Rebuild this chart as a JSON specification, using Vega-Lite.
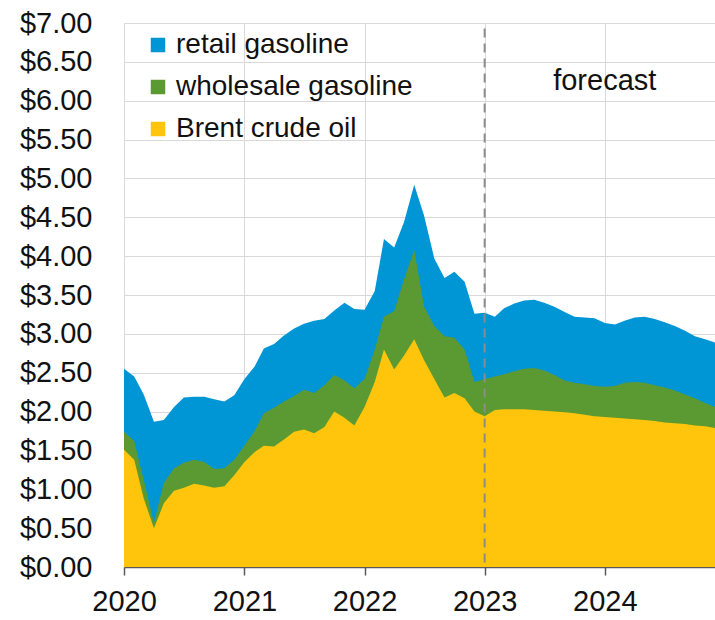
{
  "$schema": "https://vega.github.io/schema/vega-lite/v6.json",
  "autosize": {"type": "none"},
  "padding": {"left": 124, "top": 23, "right": 0, "bottom": 53},
  "width": 591,
  "height": 544,
  "config": {
    "font": "Liberation Sans",
    "view": {"stroke": null},
    "axis": {"labelFont": "Liberation Sans", "labelFontSize": 29, "labelColor": "#111111", "gridColor": "#D9D9D9", "gridWidth": 1}
  },
  "data": {"values": [
    {"date": "2020-01-01", "series": "retail gasoline", "price": 2.55},
    {"date": "2020-02-01", "series": "retail gasoline", "price": 2.45},
    {"date": "2020-03-01", "series": "retail gasoline", "price": 2.22},
    {"date": "2020-04-01", "series": "retail gasoline", "price": 1.87},
    {"date": "2020-05-01", "series": "retail gasoline", "price": 1.89},
    {"date": "2020-06-01", "series": "retail gasoline", "price": 2.06},
    {"date": "2020-07-01", "series": "retail gasoline", "price": 2.18},
    {"date": "2020-08-01", "series": "retail gasoline", "price": 2.19},
    {"date": "2020-09-01", "series": "retail gasoline", "price": 2.19},
    {"date": "2020-10-01", "series": "retail gasoline", "price": 2.16},
    {"date": "2020-11-01", "series": "retail gasoline", "price": 2.13},
    {"date": "2020-12-01", "series": "retail gasoline", "price": 2.21},
    {"date": "2021-01-01", "series": "retail gasoline", "price": 2.42},
    {"date": "2021-02-01", "series": "retail gasoline", "price": 2.58},
    {"date": "2021-03-01", "series": "retail gasoline", "price": 2.81},
    {"date": "2021-04-01", "series": "retail gasoline", "price": 2.87},
    {"date": "2021-05-01", "series": "retail gasoline", "price": 2.98},
    {"date": "2021-06-01", "series": "retail gasoline", "price": 3.07},
    {"date": "2021-07-01", "series": "retail gasoline", "price": 3.13},
    {"date": "2021-08-01", "series": "retail gasoline", "price": 3.17},
    {"date": "2021-09-01", "series": "retail gasoline", "price": 3.19},
    {"date": "2021-10-01", "series": "retail gasoline", "price": 3.30},
    {"date": "2021-11-01", "series": "retail gasoline", "price": 3.40},
    {"date": "2021-12-01", "series": "retail gasoline", "price": 3.32},
    {"date": "2022-01-01", "series": "retail gasoline", "price": 3.31},
    {"date": "2022-02-01", "series": "retail gasoline", "price": 3.55},
    {"date": "2022-03-01", "series": "retail gasoline", "price": 4.22},
    {"date": "2022-04-01", "series": "retail gasoline", "price": 4.11},
    {"date": "2022-05-01", "series": "retail gasoline", "price": 4.44},
    {"date": "2022-06-01", "series": "retail gasoline", "price": 4.92},
    {"date": "2022-07-01", "series": "retail gasoline", "price": 4.52},
    {"date": "2022-08-01", "series": "retail gasoline", "price": 3.97},
    {"date": "2022-09-01", "series": "retail gasoline", "price": 3.72},
    {"date": "2022-10-01", "series": "retail gasoline", "price": 3.80},
    {"date": "2022-11-01", "series": "retail gasoline", "price": 3.67},
    {"date": "2022-12-01", "series": "retail gasoline", "price": 3.26},
    {"date": "2023-01-01", "series": "retail gasoline", "price": 3.27},
    {"date": "2023-02-01", "series": "retail gasoline", "price": 3.22},
    {"date": "2023-03-01", "series": "retail gasoline", "price": 3.33},
    {"date": "2023-04-01", "series": "retail gasoline", "price": 3.39},
    {"date": "2023-05-01", "series": "retail gasoline", "price": 3.43},
    {"date": "2023-06-01", "series": "retail gasoline", "price": 3.44},
    {"date": "2023-07-01", "series": "retail gasoline", "price": 3.40},
    {"date": "2023-08-01", "series": "retail gasoline", "price": 3.35},
    {"date": "2023-09-01", "series": "retail gasoline", "price": 3.28},
    {"date": "2023-10-01", "series": "retail gasoline", "price": 3.22},
    {"date": "2023-11-01", "series": "retail gasoline", "price": 3.21},
    {"date": "2023-12-01", "series": "retail gasoline", "price": 3.20},
    {"date": "2024-01-01", "series": "retail gasoline", "price": 3.14},
    {"date": "2024-02-01", "series": "retail gasoline", "price": 3.12},
    {"date": "2024-03-01", "series": "retail gasoline", "price": 3.17},
    {"date": "2024-04-01", "series": "retail gasoline", "price": 3.21},
    {"date": "2024-05-01", "series": "retail gasoline", "price": 3.22},
    {"date": "2024-06-01", "series": "retail gasoline", "price": 3.19},
    {"date": "2024-07-01", "series": "retail gasoline", "price": 3.15},
    {"date": "2024-08-01", "series": "retail gasoline", "price": 3.10},
    {"date": "2024-09-01", "series": "retail gasoline", "price": 3.04},
    {"date": "2024-10-01", "series": "retail gasoline", "price": 2.97},
    {"date": "2024-11-01", "series": "retail gasoline", "price": 2.93},
    {"date": "2024-12-01", "series": "retail gasoline", "price": 2.89},
    {"date": "2020-01-01", "series": "wholesale gasoline", "price": 1.74},
    {"date": "2020-02-01", "series": "wholesale gasoline", "price": 1.62},
    {"date": "2020-03-01", "series": "wholesale gasoline", "price": 1.12},
    {"date": "2020-04-01", "series": "wholesale gasoline", "price": 0.57},
    {"date": "2020-05-01", "series": "wholesale gasoline", "price": 1.08},
    {"date": "2020-06-01", "series": "wholesale gasoline", "price": 1.27},
    {"date": "2020-07-01", "series": "wholesale gasoline", "price": 1.34},
    {"date": "2020-08-01", "series": "wholesale gasoline", "price": 1.38},
    {"date": "2020-09-01", "series": "wholesale gasoline", "price": 1.35},
    {"date": "2020-10-01", "series": "wholesale gasoline", "price": 1.26},
    {"date": "2020-11-01", "series": "wholesale gasoline", "price": 1.27},
    {"date": "2020-12-01", "series": "wholesale gasoline", "price": 1.38},
    {"date": "2021-01-01", "series": "wholesale gasoline", "price": 1.56},
    {"date": "2021-02-01", "series": "wholesale gasoline", "price": 1.75},
    {"date": "2021-03-01", "series": "wholesale gasoline", "price": 1.98},
    {"date": "2021-04-01", "series": "wholesale gasoline", "price": 2.05},
    {"date": "2021-05-01", "series": "wholesale gasoline", "price": 2.13},
    {"date": "2021-06-01", "series": "wholesale gasoline", "price": 2.20},
    {"date": "2021-07-01", "series": "wholesale gasoline", "price": 2.28},
    {"date": "2021-08-01", "series": "wholesale gasoline", "price": 2.24},
    {"date": "2021-09-01", "series": "wholesale gasoline", "price": 2.34},
    {"date": "2021-10-01", "series": "wholesale gasoline", "price": 2.47},
    {"date": "2021-11-01", "series": "wholesale gasoline", "price": 2.40},
    {"date": "2021-12-01", "series": "wholesale gasoline", "price": 2.30},
    {"date": "2022-01-01", "series": "wholesale gasoline", "price": 2.42},
    {"date": "2022-02-01", "series": "wholesale gasoline", "price": 2.80},
    {"date": "2022-03-01", "series": "wholesale gasoline", "price": 3.22},
    {"date": "2022-04-01", "series": "wholesale gasoline", "price": 3.29},
    {"date": "2022-05-01", "series": "wholesale gasoline", "price": 3.70},
    {"date": "2022-06-01", "series": "wholesale gasoline", "price": 4.08},
    {"date": "2022-07-01", "series": "wholesale gasoline", "price": 3.35},
    {"date": "2022-08-01", "series": "wholesale gasoline", "price": 3.10},
    {"date": "2022-09-01", "series": "wholesale gasoline", "price": 2.97},
    {"date": "2022-10-01", "series": "wholesale gasoline", "price": 2.95},
    {"date": "2022-11-01", "series": "wholesale gasoline", "price": 2.80},
    {"date": "2022-12-01", "series": "wholesale gasoline", "price": 2.38},
    {"date": "2023-01-01", "series": "wholesale gasoline", "price": 2.42},
    {"date": "2023-02-01", "series": "wholesale gasoline", "price": 2.45},
    {"date": "2023-03-01", "series": "wholesale gasoline", "price": 2.48},
    {"date": "2023-04-01", "series": "wholesale gasoline", "price": 2.52},
    {"date": "2023-05-01", "series": "wholesale gasoline", "price": 2.55},
    {"date": "2023-06-01", "series": "wholesale gasoline", "price": 2.56},
    {"date": "2023-07-01", "series": "wholesale gasoline", "price": 2.53},
    {"date": "2023-08-01", "series": "wholesale gasoline", "price": 2.47},
    {"date": "2023-09-01", "series": "wholesale gasoline", "price": 2.40},
    {"date": "2023-10-01", "series": "wholesale gasoline", "price": 2.37},
    {"date": "2023-11-01", "series": "wholesale gasoline", "price": 2.35},
    {"date": "2023-12-01", "series": "wholesale gasoline", "price": 2.33},
    {"date": "2024-01-01", "series": "wholesale gasoline", "price": 2.32},
    {"date": "2024-02-01", "series": "wholesale gasoline", "price": 2.33},
    {"date": "2024-03-01", "series": "wholesale gasoline", "price": 2.37},
    {"date": "2024-04-01", "series": "wholesale gasoline", "price": 2.38},
    {"date": "2024-05-01", "series": "wholesale gasoline", "price": 2.37},
    {"date": "2024-06-01", "series": "wholesale gasoline", "price": 2.34},
    {"date": "2024-07-01", "series": "wholesale gasoline", "price": 2.31},
    {"date": "2024-08-01", "series": "wholesale gasoline", "price": 2.27},
    {"date": "2024-09-01", "series": "wholesale gasoline", "price": 2.22},
    {"date": "2024-10-01", "series": "wholesale gasoline", "price": 2.17},
    {"date": "2024-11-01", "series": "wholesale gasoline", "price": 2.11},
    {"date": "2024-12-01", "series": "wholesale gasoline", "price": 2.06},
    {"date": "2020-01-01", "series": "Brent crude oil", "price": 1.51},
    {"date": "2020-02-01", "series": "Brent crude oil", "price": 1.38},
    {"date": "2020-03-01", "series": "Brent crude oil", "price": 0.88},
    {"date": "2020-04-01", "series": "Brent crude oil", "price": 0.50},
    {"date": "2020-05-01", "series": "Brent crude oil", "price": 0.82},
    {"date": "2020-06-01", "series": "Brent crude oil", "price": 0.98},
    {"date": "2020-07-01", "series": "Brent crude oil", "price": 1.02},
    {"date": "2020-08-01", "series": "Brent crude oil", "price": 1.07},
    {"date": "2020-09-01", "series": "Brent crude oil", "price": 1.05},
    {"date": "2020-10-01", "series": "Brent crude oil", "price": 1.02},
    {"date": "2020-11-01", "series": "Brent crude oil", "price": 1.04},
    {"date": "2020-12-01", "series": "Brent crude oil", "price": 1.18},
    {"date": "2021-01-01", "series": "Brent crude oil", "price": 1.35},
    {"date": "2021-02-01", "series": "Brent crude oil", "price": 1.48},
    {"date": "2021-03-01", "series": "Brent crude oil", "price": 1.56},
    {"date": "2021-04-01", "series": "Brent crude oil", "price": 1.55},
    {"date": "2021-05-01", "series": "Brent crude oil", "price": 1.64},
    {"date": "2021-06-01", "series": "Brent crude oil", "price": 1.74},
    {"date": "2021-07-01", "series": "Brent crude oil", "price": 1.77},
    {"date": "2021-08-01", "series": "Brent crude oil", "price": 1.72},
    {"date": "2021-09-01", "series": "Brent crude oil", "price": 1.80},
    {"date": "2021-10-01", "series": "Brent crude oil", "price": 2.00},
    {"date": "2021-11-01", "series": "Brent crude oil", "price": 1.92},
    {"date": "2021-12-01", "series": "Brent crude oil", "price": 1.82},
    {"date": "2022-01-01", "series": "Brent crude oil", "price": 2.06},
    {"date": "2022-02-01", "series": "Brent crude oil", "price": 2.38},
    {"date": "2022-03-01", "series": "Brent crude oil", "price": 2.80},
    {"date": "2022-04-01", "series": "Brent crude oil", "price": 2.54},
    {"date": "2022-05-01", "series": "Brent crude oil", "price": 2.72},
    {"date": "2022-06-01", "series": "Brent crude oil", "price": 2.93},
    {"date": "2022-07-01", "series": "Brent crude oil", "price": 2.66},
    {"date": "2022-08-01", "series": "Brent crude oil", "price": 2.42},
    {"date": "2022-09-01", "series": "Brent crude oil", "price": 2.18},
    {"date": "2022-10-01", "series": "Brent crude oil", "price": 2.24},
    {"date": "2022-11-01", "series": "Brent crude oil", "price": 2.17},
    {"date": "2022-12-01", "series": "Brent crude oil", "price": 2.00},
    {"date": "2023-01-01", "series": "Brent crude oil", "price": 1.94},
    {"date": "2023-02-01", "series": "Brent crude oil", "price": 2.02},
    {"date": "2023-03-01", "series": "Brent crude oil", "price": 2.03},
    {"date": "2023-04-01", "series": "Brent crude oil", "price": 2.03},
    {"date": "2023-05-01", "series": "Brent crude oil", "price": 2.03},
    {"date": "2023-06-01", "series": "Brent crude oil", "price": 2.02},
    {"date": "2023-07-01", "series": "Brent crude oil", "price": 2.01},
    {"date": "2023-08-01", "series": "Brent crude oil", "price": 2.00},
    {"date": "2023-09-01", "series": "Brent crude oil", "price": 1.99},
    {"date": "2023-10-01", "series": "Brent crude oil", "price": 1.98},
    {"date": "2023-11-01", "series": "Brent crude oil", "price": 1.96},
    {"date": "2023-12-01", "series": "Brent crude oil", "price": 1.94},
    {"date": "2024-01-01", "series": "Brent crude oil", "price": 1.93},
    {"date": "2024-02-01", "series": "Brent crude oil", "price": 1.92},
    {"date": "2024-03-01", "series": "Brent crude oil", "price": 1.91},
    {"date": "2024-04-01", "series": "Brent crude oil", "price": 1.90},
    {"date": "2024-05-01", "series": "Brent crude oil", "price": 1.89},
    {"date": "2024-06-01", "series": "Brent crude oil", "price": 1.88},
    {"date": "2024-07-01", "series": "Brent crude oil", "price": 1.86},
    {"date": "2024-08-01", "series": "Brent crude oil", "price": 1.85},
    {"date": "2024-09-01", "series": "Brent crude oil", "price": 1.84},
    {"date": "2024-10-01", "series": "Brent crude oil", "price": 1.82},
    {"date": "2024-11-01", "series": "Brent crude oil", "price": 1.81},
    {"date": "2024-12-01", "series": "Brent crude oil", "price": 1.79}
  ]},
  "encoding": {
    "x": {
      "field": "date", "type": "temporal",
      "scale": {"type": "utc", "domain": [1577836800000, 1733011200000]},
      "axis": {"title": null, "format": "%Y", "tickCount": {"interval": "year", "step": 1}, "grid": true, "domainColor": "#595959", "domainWidth": 1.5, "tickColor": "#595959", "tickSize": 8, "tickWidth": 1.5, "labelPadding": 12, "labelFlush": false, "labelOverlap": false}
    },
    "y": {
      "field": "price", "type": "quantitative", "stack": null,
      "scale": {"domain": [0, 7], "nice": false},
      "axis": {"title": null, "format": "$.2f", "tickCount": 14, "domain": false, "ticks": false, "labelPadding": 32, "labelOverlap": false, "labelFlush": false, "labelBound": false, "grid": true}
    }
  },
  "layer": [
    {
      "transform": [{"filter": "datum.series === 'retail gasoline'"}],
      "mark": {"type": "area", "opacity": 1},
      "encoding": {
        "color": {"field": "series", "type": "nominal",
        "scale": {"domain": ["retail gasoline", "wholesale gasoline", "Brent crude oil"], "range": ["#0095D5", "#5B9A33", "#FFC40C"]},
        "legend": {"title": null, "orient": "none", "legendX": 20, "legendY": 8, "symbolType": "square", "symbolSize": 210, "symbolStrokeWidth": 0, "symbolOpacity": 1, "labelFontSize": 28, "labelFont": "Liberation Sans", "labelColor": "#111111", "labelOffset": 4, "labelLimit": 500, "rowPadding": 14}}
      }
    },
    {
      "transform": [{"filter": "datum.series === 'wholesale gasoline'"}],
      "mark": {"type": "area", "opacity": 1},
      "encoding": {"color": {"field": "series", "type": "nominal"}}
    },
    {
      "transform": [{"filter": "datum.series === 'Brent crude oil'"}],
      "mark": {"type": "area", "opacity": 1},
      "encoding": {"color": {"field": "series", "type": "nominal"}}
    },
    {
      "data": {"values": [{"date": "2023-01-01", "price": 6.93, "price2": 0}]},
      "mark": {"type": "rule", "color": "#8C8C8C", "strokeDash": [9, 6], "strokeWidth": 2},
      "encoding": {"y2": {"field": "price2"}}
    },
    {
      "data": {"values": [{"date": "2024-01-01", "price": 6.25, "label": "forecast"}]},
      "mark": {"type": "text", "fontSize": 29, "font": "Liberation Sans", "color": "#111111", "align": "center", "baseline": "middle"},
      "encoding": {"text": {"field": "label"}}
    }
  ]
}
